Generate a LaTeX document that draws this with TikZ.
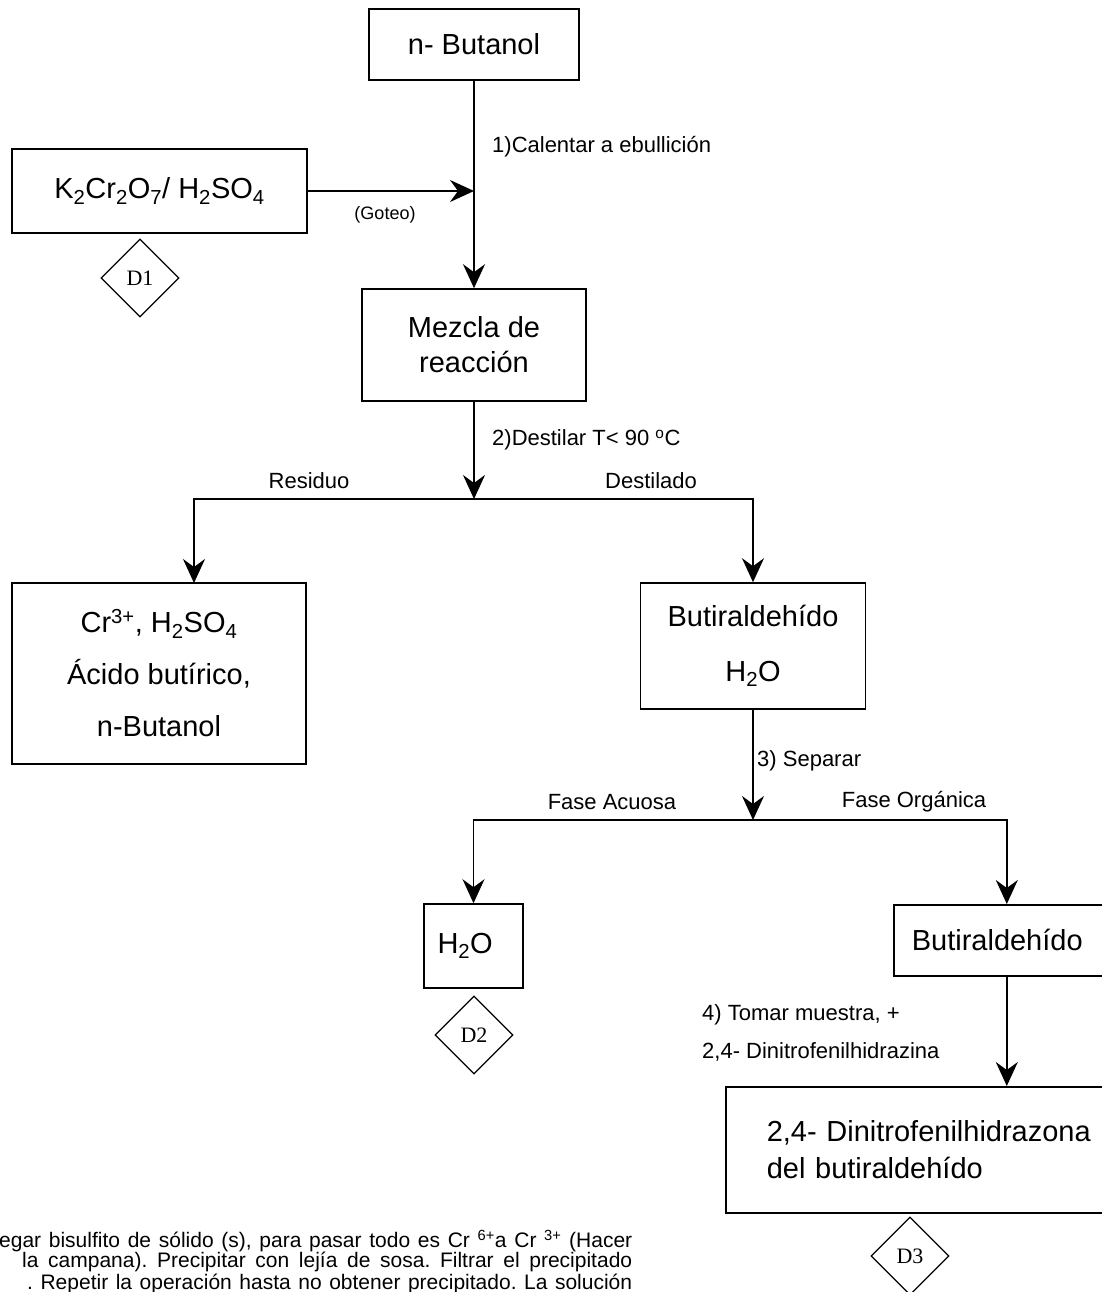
\documentclass[tikz,border=0pt]{standalone}
\usepackage{fontspec}
\setmainfont{Liberation Sans}
\newfontfamily\serifdfont{Liberation Serif}
\usepackage{tikz}
\usetikzlibrary{arrows.meta,shapes.geometric,positioning}
\frenchspacing

\newcommand{\boxfont}{\fontsize{29}{35}\selectfont}
\newcommand{\lblfont}{\fontsize{22}{26}\selectfont}
\newcommand{\notefont}{\fontsize{21}{22}\selectfont}

\begin{document}
\begin{tikzpicture}[
    x=1pt, y=-1pt,
    proc/.style={rectangle, draw, line width=1.6pt, font=\boxfont, align=center, inner sep=0pt},
    lbl/.style={font=\lblfont, inner sep=0pt},
    waste/.style={diamond, draw, line width=1.2pt, minimum width=78pt, minimum height=78pt, inner sep=0pt, font=\serifdfont\fontsize{22}{24}\selectfont},
    arrow/.style={->, >={Stealth[length=24pt, width=22pt, inset=8pt]}, line width=1.6pt},
]
    \useasboundingbox (0,0) rectangle (1102,1292);
    \clip (0,0) rectangle (1102,1292);

    % Start
    \node[proc, minimum width=210pt, minimum height=71pt] (butanol) at (474,44.5) {n- Butanol};
    % Oxidant
    \node[proc, minimum width=295pt, minimum height=84pt] (oxid) at (159.5,191) {K\textsubscript{2}Cr\textsubscript{2}O\textsubscript{7}/ H\textsubscript{2}SO\textsubscript{4}};
    \node[waste] (d1) at (140,278) {D1};
    \coordinate (join) at (474,191);
    % Reaction
    \node[proc, minimum width=224pt, minimum height=112pt] (mezcla) at (474,345) {Mezcla de\\reacción};
    \coordinate (split1) at (474,499);
    \coordinate (resin) at (194,583);
    % Residue
    \node[proc, minimum width=294pt, minimum height=181pt, font=\fontsize{29}{52}\selectfont] (residue) at (159,673.5) {Cr\textsuperscript{3+}, H\textsubscript{2}SO\textsubscript{4}\\Ácido butírico,\\n-Butanol};
    % Distillate
    \node[proc, minimum width=225pt, minimum height=126pt, font=\fontsize{29}{55}\selectfont] (distill) at (753,646) {Butiraldehído\\H\textsubscript{2}O};
    \coordinate (split2) at (753,820);
    % Phases
    \node[proc, minimum width=99pt, minimum height=84pt, text width=72pt, inner xsep=13.5pt, align=left] (water) at (473.5,946) {H\textsubscript{2}O};
    \node[waste] (d2) at (474,1035) {D2};
    \node[proc, anchor=north west, minimum height=71pt, text width=190pt, inner xsep=18pt, align=left] (organic) at (893,904) {Butiraldehído};
    % Test
    \node[proc, anchor=north west, minimum height=126pt, text width=480pt, inner xsep=41pt, align=left, font=\fontsize{29}{37}\selectfont] (product) at (725,1086) {2,4- Dinitrofenilhidrazona\\del butiraldehído};
    \node[waste] (d3) at (910,1256) {D3};

    \draw[arrow] (butanol) -- (mezcla);
    \draw[arrow] (oxid) -- (join);
    \draw[arrow] (mezcla) -- (split1);
    \draw[arrow] (split1) -| (resin);
    \draw[arrow] (split1) -| (distill);
    \draw[arrow] (distill) -- (split2);
    \draw[arrow] (split2) -| (water);
    \draw[arrow] (split2) -| (organic);
    \draw[arrow] (organic) -- (product);

    % Step labels
    \node[lbl, anchor=west] (step1) at (492,147) {1)Calentar a ebullición};
    \node[lbl, font=\fontsize{18}{22}\selectfont] (goteo) at (385,215) {(Goteo)};
    \node[lbl, anchor=west] (step2) at (492,440) {2)Destilar T< 90 \textsuperscript{o}C};
    \node[lbl] (residuo) at (309,481) {Residuo};
    \node[lbl] (destilado) at (651,481) {Destilado};
    \node[lbl, anchor=west] (step3) at (757,761) {3) Separar};
    \node[lbl] (acuosa) at (612,802) {Fase Acuosa};
    \node[lbl] (organica) at (914,802) {Fase Orgánica};
    \node[lbl, anchor=west] (step4a) at (702,1015) {4) Tomar muestra, +};
    \node[lbl, anchor=west] (step4b) at (702,1052) {2,4- Dinitrofenilhidrazina};

    % Note
    \node[lbl, font=\notefont, anchor=west] (note1) at (-1,1241) {\makebox[633pt][s]{egar bisulfito de sólido (s), para pasar todo es Cr \textsuperscript{6+}a Cr \textsuperscript{3+} (Hacer}};
    \node[lbl, font=\notefont, anchor=west] (note2) at (22,1262) {\makebox[610pt][s]{la campana). Precipitar con lejía de sosa. Filtrar el precipitado}};
    \node[lbl, font=\notefont, anchor=west] (note3) at (27,1284) {\makebox[605pt][s]{. Repetir la operación hasta no obtener precipitado. La solución}};
\end{tikzpicture}
\end{document}
